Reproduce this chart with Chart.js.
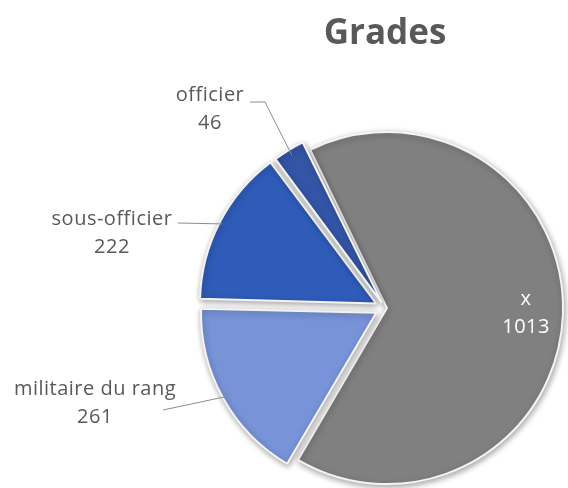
<!DOCTYPE html>
<html>
<head>
<meta charset="utf-8">
<script src="https://cdn.jsdelivr.net/npm/chart.js@4.4.1/dist/chart.umd.min.js"></script>
<style>
  html, body { margin: 0; padding: 0; background: #fff; }
  #wrap { width: 568px; height: 488px; }
</style>
</head>
<body>
<div id="wrap"><canvas id="gradesChart"></canvas></div>
<script>
// data
const categories = ['x', 'militaire du rang', 'sous-officier', 'officier'];
const values = [1013, 261, 222, 46];
const sliceColors = ['#808080', '#7893d8', '#2f5cb9', '#3455a6'];

// label layout (canvas px): text centre and elbow of the leader line
const labelText = [null, [95, 403], [112, 233], [210, 109]];
const labelElbow = [null, [163, 410], [178, 223], [265, 102]];
const labelStart = [null, null, null, [250, 102]];

// chart.js arcs move by offset / 4
const sliceOffsets = [8, 40, 40, 24];

const labelFont = '20px "Open Sans", sans-serif';

const labelsPlugin = {
    id: 'pieLabels',
    beforeDatasetsDraw(chart) {
        const ctx = chart.ctx;
        ctx.save();
        ctx.shadowColor = 'rgba(0,0,0,0.35)';
        ctx.shadowBlur = 6;
        ctx.shadowOffsetX = 1;
        ctx.shadowOffsetY = 2;
    },
    afterDatasetsDraw(chart) {
        chart.ctx.restore();
    },
    afterDraw(chart) {
        const ctx = chart.ctx;
        const meta = chart.getDatasetMeta(0);
        ctx.save();
        ctx.font = labelFont;
        ctx.letterSpacing = '0.5px';
        ctx.textAlign = 'center';
        ctx.textBaseline = 'middle';
        meta.data.forEach((arc, i) => {
            const mid = (arc.startAngle + arc.endAngle) / 2;
            const off = sliceOffsets[i] / 4;
            if (!labelText[i]) {
                // inside label
                const d = arc.outerRadius * 0.8 + off;
                const px = arc.x + Math.cos(mid) * d;
                const py = arc.y + Math.sin(mid) * d;
                ctx.fillStyle = '#ffffff';
                ctx.fillText(categories[i], px, py - 14);
                ctx.fillText(String(values[i]), px, py + 14);
                return;
            }
            const d = arc.outerRadius + off - 1;
            const ex = arc.x + Math.cos(mid) * d;
            const ey = arc.y + Math.sin(mid) * d;
            ctx.strokeStyle = '#8c8c8c';
            ctx.lineWidth = 1;
            ctx.beginPath();
            if (labelStart[i]) {
                ctx.moveTo(labelStart[i][0], labelStart[i][1]);
                ctx.lineTo(labelElbow[i][0], labelElbow[i][1]);
            } else {
                ctx.moveTo(labelElbow[i][0], labelElbow[i][1]);
            }
            ctx.lineTo(ex, ey);
            ctx.stroke();
            ctx.fillStyle = '#595959';
            ctx.fillText(categories[i], labelText[i][0], labelText[i][1] - 14);
            ctx.fillText(String(values[i]), labelText[i][0], labelText[i][1] + 14);
        });
        ctx.restore();
    }
};

const chart = new Chart(document.getElementById('gradesChart'), {
    type: 'pie',
    data: {
        labels: categories,
        datasets: [{
            data: values,
            backgroundColor: sliceColors,
            borderColor: '#f4f4f4',
            borderWidth: 2,
            offset: sliceOffsets
        }]
    },
    options: {
        responsive: true,
        maintainAspectRatio: false,
        animation: false,
        rotation: -26,
        radius: 174,
        layout: { padding: { left: 202, right: 0, top: 0, bottom: 0 } },
        plugins: {
            legend: { display: false },
            tooltip: { enabled: false },
            title: {
                display: true,
                text: 'Grades',
                fullSize: false,
                color: '#595959',
                font: { family: '"Open Sans", sans-serif', size: 35, weight: 'bold', lineHeight: 1.2 },
                padding: { top: 13, bottom: 73 }
            }
        }
    },
    plugins: [labelsPlugin]
});
</script>
</body>
</html>
